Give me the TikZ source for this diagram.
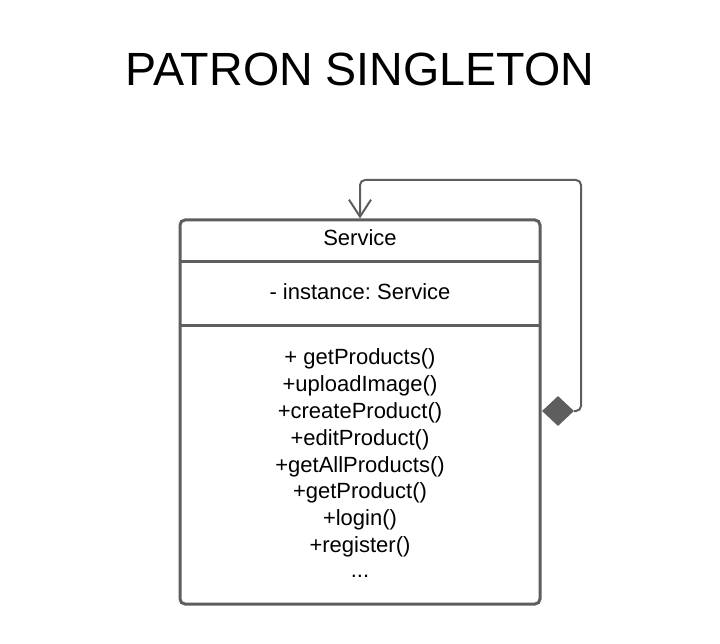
\documentclass[tikz,border=0pt]{standalone}
\usepackage{fontspec}
\setmainfont{Liberation Sans}
\frenchspacing
\usetikzlibrary{arrows.meta,shapes.geometric}
\definecolor{umlgray}{HTML}{5E5E5E}
\tikzset{
  classbox/.style={draw=umlgray, line width=3pt, rounded corners=5pt,
    minimum width=360pt, minimum height=384pt, inner sep=0pt},
  member/.style={anchor=base, font=\fontsize{22}{26}\selectfont, inner sep=0pt},
  aggdiamond/.style={diamond, fill=umlgray, draw=none, minimum width=32pt,
    minimum height=30pt, inner sep=0pt},
}
\begin{document}
\begin{tikzpicture}[x=1pt, y=-1pt]
    \useasboundingbox (0,0) rectangle (720,644);
    \node[font=\fontsize{46.6}{50}\selectfont, anchor=base] (title) at (360,86) {PATRON SINGLETON};
    % class box
    \node[classbox] (svc) at (360,412) {};
    \draw[umlgray, line width=3pt] (180,262) -- (540,262)
        (180,325) -- (540,325);
    \node[member] (name) at (360,246) {Service};
    \node[member] (attr) at (360,300) {- instance: Service};
    \foreach \m [count=\i] in {+ getProducts(), +uploadImage(), +createProduct(),
        +editProduct(), +getAllProducts(), +getProduct(), +login(), +register()}
        \node[member] (op\i) at (360,337.5+26.9*\i) {\m};
    \node[member] (more) at (360,577) {...};
    % self association
    \node[aggdiamond] (agg) at (558,411) {};
    \draw[umlgray, line width=2pt, rounded corners=5pt,
        -{Straight Barb[length=17pt, width=22pt, line width=2pt]}]
        (agg.east) -| (581,180) -| (svc.north);
\end{tikzpicture}
\end{document}
